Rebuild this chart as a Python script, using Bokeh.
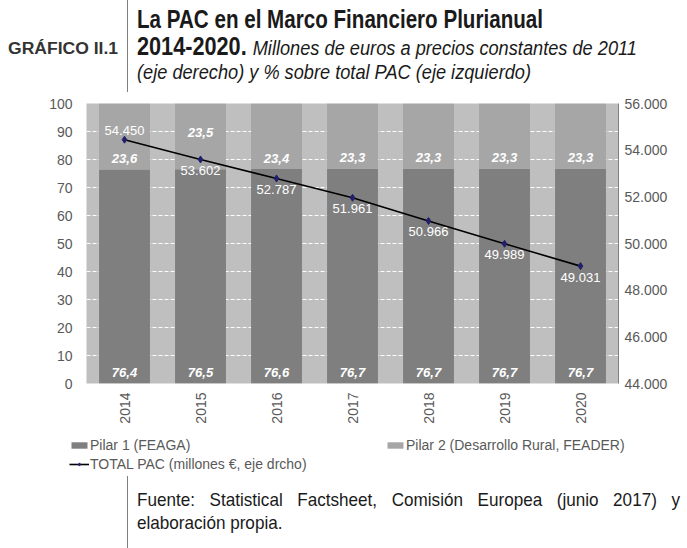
import math
from bokeh.plotting import figure
from bokeh.layouts import column, row
from bokeh.models import (ColumnDataSource, Range1d, FactorRange, LinearAxis, FixedTicker,
                          CustomJSTickFormatter, Legend, LegendItem, LabelSet, Div)
from bokeh.core.properties import value
from bokeh.embed import file_html
from bokeh.resources import INLINE

# ---- data ----
years = ["2014", "2015", "2016", "2017", "2018", "2019", "2020"]
pilar1 = [76.4, 76.5, 76.6, 76.7, 76.7, 76.7, 76.7]
pilar2 = [23.6, 23.5, 23.4, 23.3, 23.3, 23.3, 23.3]
total_pac = [54450, 53602, 52787, 51961, 50966, 49989, 49031]
left_ticks = [0, 10, 20, 30, 40, 50, 60, 70, 80, 90, 100]
right_ticks = [44000, 46000, 48000, 50000, 52000, 54000, 56000]

# ---- styles ----
SANS = "Liberation Sans"
GREY_TXT = "#595959"
W = 684
C1, C2 = "#7f7f7f", "#a6a6a6"
FF = 'font-family="Liberation Sans, Arial, sans-serif"'

# ---------- header (title block) ----------
SX2 = 0.865
top_svg = (
    f'<svg xmlns="http://www.w3.org/2000/svg" width="{W}" height="92" style="display:block">'
    '<line x1="127.5" y1="0" x2="127.5" y2="92" stroke="#7f7f7f" stroke-width="1"/>'
    f'<text x="8" y="54" {FF} font-size="16" font-weight="bold" fill="#333333" '
    'textLength="110" lengthAdjust="spacingAndGlyphs">GRÁFICO II.1</text>'
    f'<text x="137" y="28" {FF} font-size="26" font-weight="bold" fill="#1a1a1a" '
    'textLength="406" lengthAdjust="spacingAndGlyphs">La PAC en el Marco Financiero Plurianual</text>'
    f'<g transform="translate(137,0) scale({SX2},1)">'
    f'<text x="0" y="55" {FF} fill="#1a1a1a" textLength="{500 / SX2:.1f}" lengthAdjust="spacingAndGlyphs">'
    '<tspan font-size="25" font-weight="bold">2014-2020. </tspan>'
    '<tspan font-size="21" font-style="italic">Millones de euros a precios constantes de 2011</tspan></text>'
    '</g>'
    f'<text x="137" y="79" {FF} font-size="21" font-style="italic" fill="#1a1a1a" '
    'textLength="394" lengthAdjust="spacingAndGlyphs">(eje derecho) y % sobre total PAC (eje izquierdo)</text>'
    '</svg>'
)
top = Div(text=top_svg, width=W, height=92, margin=0)

# ---------- main chart ----------
H_FIG = 340
p = figure(x_range=years, y_range=Range1d(0, 100), width=W, height=H_FIG,
           output_backend="svg", toolbar_location=None,
           min_border_left=86, min_border_right=W - 618,
           min_border_top=11, min_border_bottom=49, margin=0)
p.background_fill_color = "#bfbfbf"
p.border_fill_color = "white"
p.outline_line_color = None

p.xgrid.grid_line_color = None
p.ygrid.grid_line_color = "white"
p.ygrid.grid_line_dash = "4 2"
p.ygrid.grid_line_width = 1
p.ygrid.ticker = FixedTicker(ticks=left_ticks)

p.yaxis.ticker = FixedTicker(ticks=left_ticks)
p.yaxis.axis_line_color = None
p.yaxis.major_tick_line_color = None
p.yaxis.minor_tick_line_color = None
p.yaxis.major_tick_out = 0
p.yaxis.major_label_standoff = 14
p.yaxis.major_label_text_font = SANS
p.yaxis.major_label_text_font_size = "14px"
p.yaxis.major_label_text_color = GREY_TXT

p.xaxis.axis_line_color = None
p.xaxis.major_tick_line_color = None
p.xaxis.major_tick_out = 0
p.xaxis.major_label_orientation = math.pi / 2
p.xaxis.major_label_standoff = 9
p.xaxis.major_label_text_font = SANS
p.xaxis.major_label_text_font_size = "14px"
p.xaxis.major_label_text_color = GREY_TXT

p.extra_y_ranges = {"tot": Range1d(44000, 56000)}
rax = LinearAxis(y_range_name="tot", ticker=FixedTicker(ticks=right_ticks),
                 formatter=CustomJSTickFormatter(code="return (tick/1000).toFixed(3);"))
rax.axis_line_color = "#7f7f7f"
rax.major_tick_line_color = None
rax.minor_tick_line_color = None
rax.major_tick_out = 0
rax.major_label_standoff = 6
rax.major_label_text_font = SANS
rax.major_label_text_font_size = "14px"
rax.major_label_text_color = GREY_TXT
p.add_layout(rax, "right")

src = ColumnDataSource(dict(
    year=years, p1=pilar1, p2=pilar2,
    p1_txt=[f"{v:.1f}".replace(".", ",") for v in pilar1],
    p2_txt=[f"{v:.1f}".replace(".", ",") for v in pilar2],
    zero=[0] * len(years),
    p2_off=[37 if y == "2015" else 11 for y in years],
))
bars = p.vbar_stack(["p1", "p2"], x="year", width=0.67, source=src,
                    color=[C1, C2], line_color=None)

lab_style = dict(text_align="center", text_baseline="middle", text_color="white",
                 text_font=value(SANS), text_font_size="13px")
p.add_layout(LabelSet(x="year", y="zero", text="p1_txt", source=src, y_offset=11,
                      text_font_style="bold italic", **lab_style))
p.add_layout(LabelSet(x="year", y="p1", text="p2_txt", source=src, y_offset="p2_off",
                      text_font_style="bold italic", **lab_style))

lsrc = ColumnDataSource(dict(
    year=years, tot=total_pac,
    txt=[f"{v:,}".replace(",", ".") for v in total_pac],
    off=[9 if i == 0 else -11 for i in range(len(years))],
))
lr = p.line("year", "tot", source=lsrc, y_range_name="tot",
            line_color="black", line_width=1.6)
mr = p.scatter("year", "tot", source=lsrc, y_range_name="tot",
               marker="diamond", size=7, color="#1f1f6b")
p.add_layout(LabelSet(x="year", y="tot", text="txt", source=lsrc,
                      y_range_name="tot", y_offset="off", **lab_style))

# ---------- legend strip (same series, drawn outside its visible range) ----------
H_LEG = 44
lg = figure(width=W, height=H_LEG, x_range=FactorRange(*years), y_range=Range1d(1e6, 1e6 + 1),
            x_axis_type=None, y_axis_type=None, output_backend="svg",
            toolbar_location=None, min_border=0, margin=0)
lg.outline_line_color = None
lg.xgrid.visible = False
lg.ygrid.visible = False
g = lg.vbar_stack(["p1", "p2"], x="year", width=0.67, source=src,
                  color=[C1, C2], line_color=None)
g3 = lg.line("year", "tot", source=lsrc, line_color="black", line_width=1.6)
g4 = lg.scatter("year", "tot", source=lsrc, marker="diamond", size=7, color="#1f1f6b")

common = dict(padding=0, margin=0, border_line_color=None, background_fill_alpha=0,
              glyph_width=20, glyph_height=8, label_height=16, label_standoff=1,
              label_text_font=SANS, label_text_font_size="14px",
              label_text_color=GREY_TXT, orientation="horizontal")
legA = Legend(items=[LegendItem(label="Pilar 1 (FEAGA)", renderers=[g[0]]),
                     LegendItem(label="Pilar 2 (Desarrollo Rural, FEADER)", renderers=[g[1]])],
              location=(69, 23), label_width=280, spacing=15, **common)
legB = Legend(items=[LegendItem(label="TOTAL PAC (millones €, eje drcho)", renderers=[g3, g4])],
              location=(69, 4), **common)
lg.add_layout(legA, "center")
lg.add_layout(legB, "center")

# ---------- source note (justified first line) ----------
H_BOT = 72
S = 0.9
bot_html = f"""
<div style="position:relative;width:{W}px;height:{H_BOT}px;">
  <div style="position:absolute;left:127px;top:0px;width:1px;height:{H_BOT}px;background:#7f7f7f;"></div>
  <div style="position:absolute;left:137px;top:12px;width:{543 / S:.1f}px;transform:scaleX({S});
              transform-origin:0 0;font-family:'Liberation Sans',Arial,sans-serif;font-size:19px;
              line-height:23px;color:#1a1a1a;">
    <div style="text-align:justify;text-align-last:justify;">Fuente: Statistical Factsheet, Comisión Europea (junio 2017) y</div>
    <div>elaboración propia.</div>
  </div>
</div>
"""
bottom = Div(text=bot_html, width=W, height=H_BOT, margin=0)

layout = column(top, p, row(lg), bottom, spacing=0)
open("out.html", "w").write(file_html(layout, INLINE))
